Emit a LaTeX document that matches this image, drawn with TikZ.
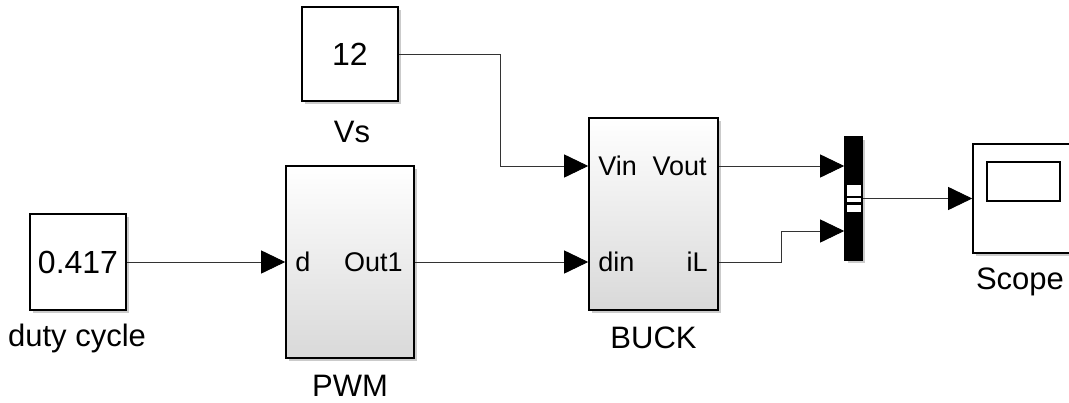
\documentclass[tikz,border=0pt]{standalone}
\usepackage{fontspec}
\setmainfont{Liberation Sans}
\usepackage{tikz}
\usetikzlibrary{arrows.meta, positioning, shadows}

\begin{document}
\begin{tikzpicture}[x=1pt, y=-1pt,
    blk/.style={draw, line width=1.6pt, inner sep=0pt, fill=white,
      drop shadow={shadow xshift=2.5pt, shadow yshift=-2.5pt, fill=black!40}},
    sub/.style={blk, top color=white, bottom color=black!15},
    val/.style={font=\fontsize{32}{36}\selectfont},
    lab/.style={inner sep=0pt, font=\fontsize{31}{36}\selectfont},
    port/.style={inner sep=0pt, font=\fontsize{27}{32}\selectfont},
    arr/.style={-{Triangle[length=24pt, width=23pt, color=black]}, line width=0.9pt, draw=black!80}
  ]
  \clip (0,0) rectangle (1069,402);
  \fill[white] (0,0) rectangle (1069,402);

  % sources
  \node[blk, val, minimum width=96pt, minimum height=94pt] (vs)   at (350,54)  {12};
  \node[blk, val, minimum width=96pt, minimum height=96pt] (duty) at (78,262)  {0.417};
  \node[lab] (vslab)   at (352,132) {Vs};
  \node[lab] (dutylab) at (77,338)  {duty cycle};

  % subsystems
  \node[sub, minimum width=128pt, minimum height=192pt] (pwm)  at (350,262)   {};
  \node[sub, minimum width=129pt, minimum height=192pt] (buck) at (653.5,214) {};
  \node[lab] (pwmlab)  at (350,386)   {PWM};
  \node[lab] (bucklab) at (653.5,338) {BUCK};

  \node[port, anchor=west] (pwmd)    at ([xshift=10pt]pwm.west)  {d};
  \node[port, anchor=east] (pwmout)  at ([xshift=-12pt]pwm.east) {Out1};
  \node[port, anchor=west] (buckvin) at ([xshift=10pt, yshift=48pt]buck.west)   {Vin};
  \node[port, anchor=east] (buckvout) at ([xshift=-12pt, yshift=48pt]buck.east) {Vout};
  \node[port, anchor=west] (buckdin) at ([xshift=10pt, yshift=-48pt]buck.west)  {din};
  \node[port, anchor=east] (buckil)  at ([xshift=-11pt, yshift=-48pt]buck.east) {iL};

  % mux and scope
  \node[blk, fill=black, minimum width=17pt, minimum height=123pt] (mux) at (853.5,198.5) {};
  \node[fill=white, inner sep=0pt, minimum width=14pt, minimum height=11pt] (muxa) at (853.5,190.5) {};
  \node[fill=white, inner sep=0pt, minimum width=14pt, minimum height=4pt]  (muxb) at (853.5,200)   {};
  \node[fill=white, inner sep=0pt, minimum width=14pt, minimum height=7pt]  (muxc) at (853.5,208.5) {};
  \node[blk, minimum width=101pt, minimum height=109pt] (scope) at (1023.5,198.5) {};
  \node[draw, line width=2.4pt, inner sep=0pt, minimum width=73pt, minimum height=39pt] (screen) at (1023.5,181.5) {};
  \node[lab] (scopelab) at (1020,282) {Scope};

  \coordinate (buck-vin)  at ([yshift=48pt]buck.west);
  \coordinate (buck-din)  at ([yshift=-48pt]buck.west);
  \coordinate (buck-vout) at ([yshift=48pt]buck.east);
  \coordinate (buck-il)   at ([yshift=-48pt]buck.east);
  \coordinate (mux-in1)   at ([yshift=32.5pt]mux.west);
  \coordinate (mux-in2)   at ([yshift=-32.5pt]mux.west);

  \draw[arr] (duty.east) -- (pwm.west);
  \draw[arr] (pwm.east) -- (buck-din);
  \draw[arr] (vs.east) -| ([xshift=-88pt]buck-vin) -- (buck-vin);
  \draw[arr] (buck-vout) -- (mux-in1);
  \draw[arr] (buck-il) -| ([xshift=-63pt]mux-in2) -- (mux-in2);
  \draw[arr] (mux.east) -- (scope.west);
\end{tikzpicture}
\end{document}
